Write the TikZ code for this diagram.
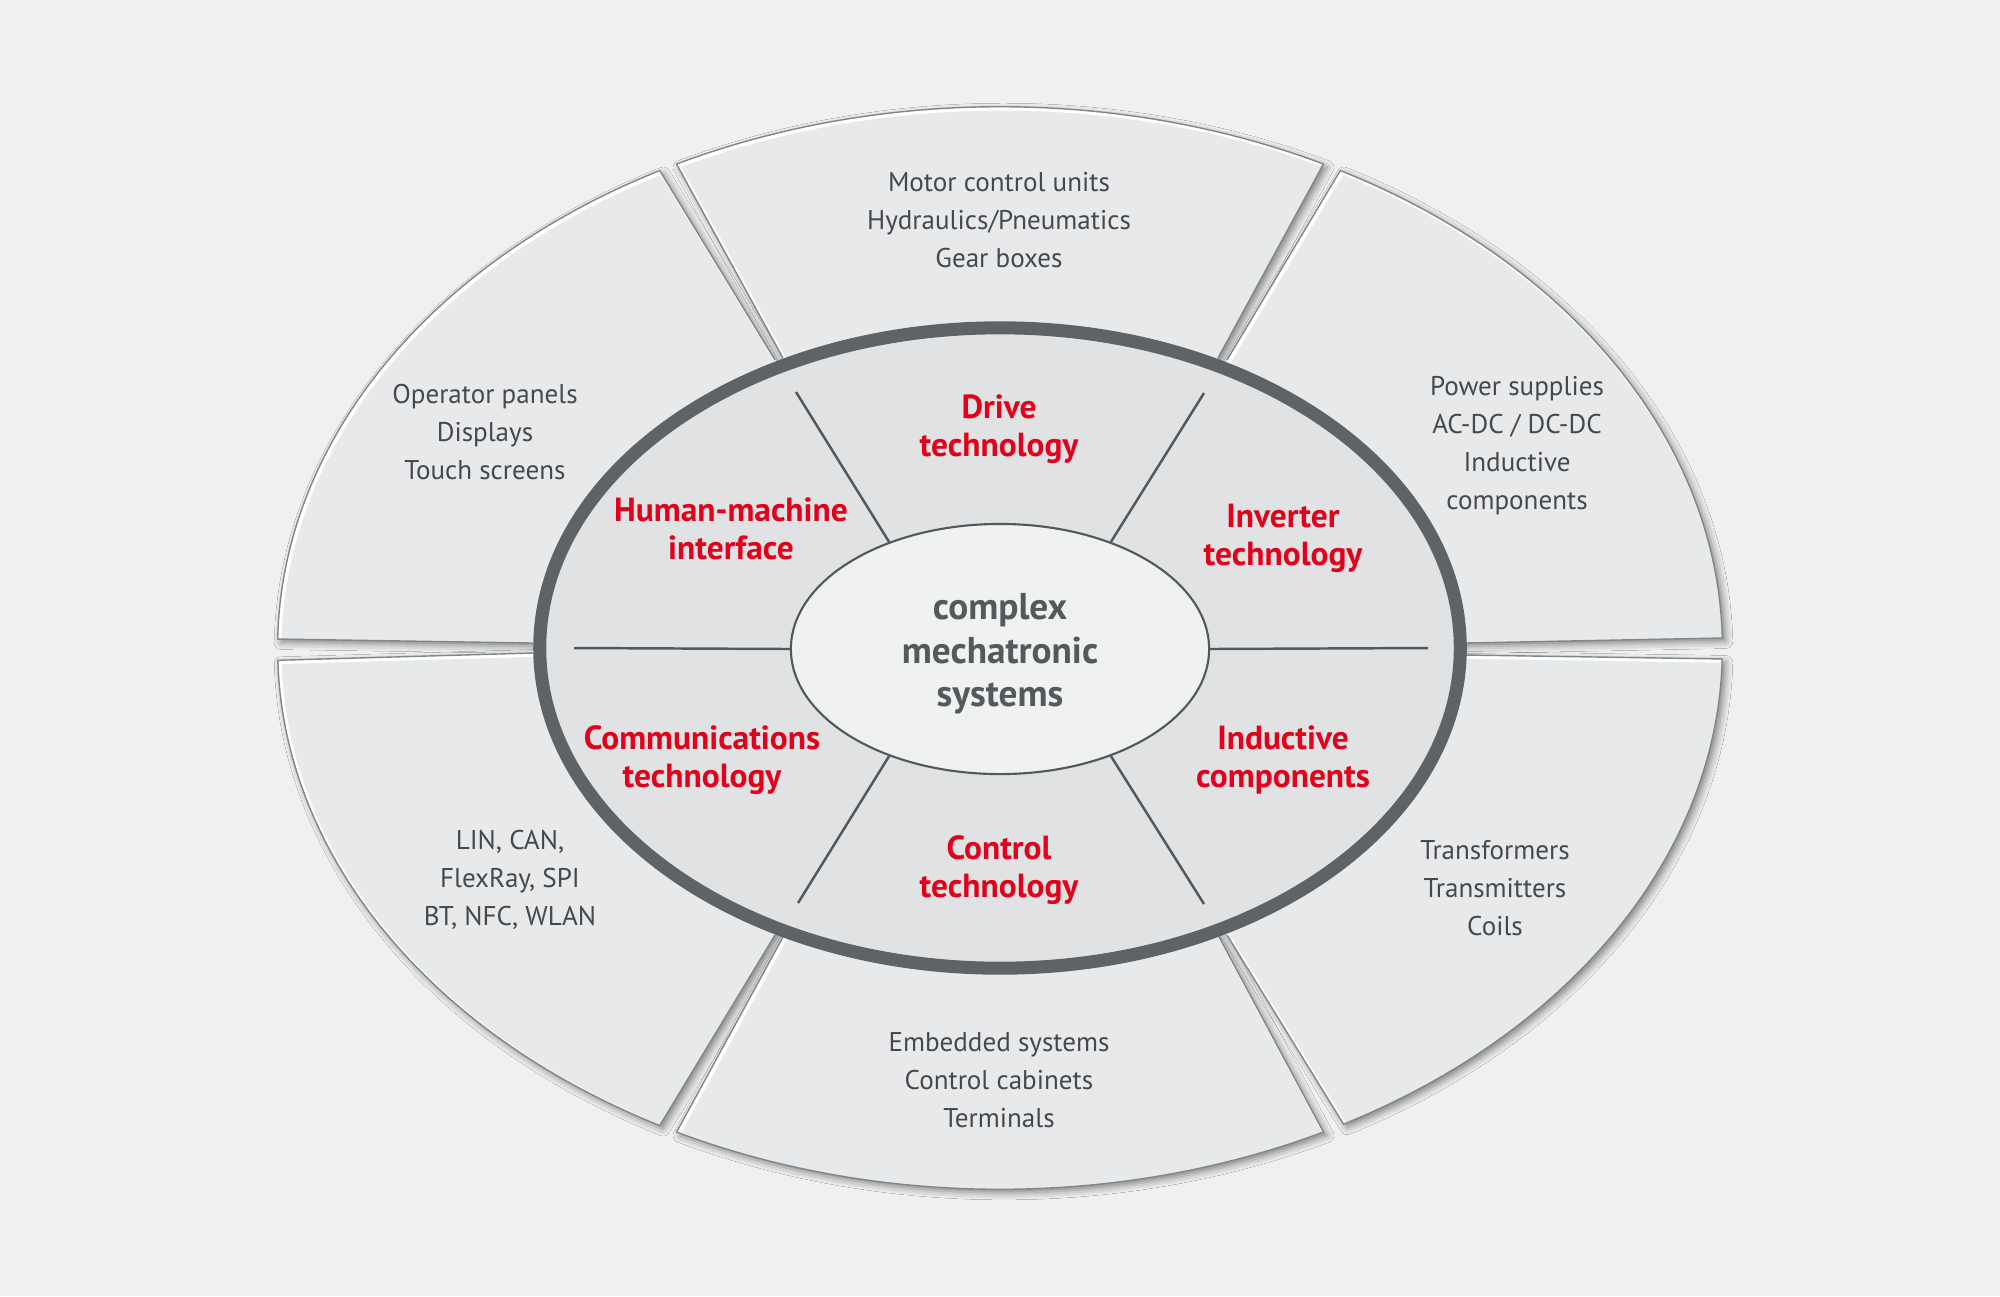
\documentclass[tikz,border=0pt]{standalone}
\usepackage{fontspec}
\setmainfont{PT Sans}
\usetikzlibrary{shapes.geometric,shadows.blur}
\definecolor{bg}{RGB}{239,240,239}
\definecolor{secfill}{RGB}{232,233,234}
\definecolor{secline}{RGB}{128,135,139}
\definecolor{ringfill}{RGB}{225,226,227}
\definecolor{ringcol}{RGB}{95,99,102}
\definecolor{divcol}{RGB}{84,88,91}
\definecolor{corefill}{RGB}{240,241,241}
\definecolor{txtgray}{RGB}{70,73,76}
\definecolor{coregray}{RGB}{85,89,92}
\definecolor{hired}{RGB}{226,0,26}
\tikzset{
  itemtext/.style={text=txtgray, align=center, inner sep=0pt, font=\fontsize{7.7}{10.8}\selectfont},
  areatext/.style={text=hired, align=center, inner sep=0pt, font=\bfseries\fontsize{9.5}{10.8}\selectfont},
  coretext/.style={text=coregray, align=center, inner sep=0pt, font=\bfseries\fontsize{10.6}{12.3}\selectfont},
  divider/.style={draw=divcol, line width=0.7pt},
  secshadow/.style={blur shadow={shadow xshift=0.035cm, shadow yshift=-0.035cm, shadow blur radius=0.07cm, shadow opacity=45}},
}
\begin{document}
\begin{tikzpicture}[x=0.01cm,y=-0.01cm]
\useasboundingbox[fill=bg] (0,0) rectangle (2000,1296);
\coordinate (O) at (1000,648);
% shadows pass
\foreach \ax/\ay/\sa/\ea/\bx/\by in {775/360/118.1/179.05/533/643, 783/358/116.6/63.4/1218/358, 1227/360/61.9/1.06/1465/643, 1465/655/-1.16/-61.6/1227/935, 1218/935/-63.4/-116.6/783/937, 775/935/-118.1/-178.7/533/653}{
  \path[secshadow] (\ax,\ay) -- ([shift={(O)}]\sa:7.22cm and 5.41cm) arc[start angle=\sa, end angle=\ea, x radius=7.22cm, y radius=5.41cm] -- (\bx,\by) -- (O) -- cycle;
}
% fill pass
\foreach \ax/\ay/\sa/\ea/\bx/\by in {775/360/118.1/179.05/533/643, 783/358/116.6/63.4/1218/358, 1227/360/61.9/1.06/1465/643, 1465/655/-1.16/-61.6/1227/935, 1218/935/-63.4/-116.6/783/937, 775/935/-118.1/-178.7/533/653}{
  \begin{scope}
  \clip (\ax,\ay) -- ([shift={(O)}]\sa:7.22cm and 5.41cm) arc[start angle=\sa, end angle=\ea, x radius=7.22cm, y radius=5.41cm] -- (\bx,\by) -- (O) -- cycle;
  \fill[secfill] (\ax,\ay) -- ([shift={(O)}]\sa:7.22cm and 5.41cm) arc[start angle=\sa, end angle=\ea, x radius=7.22cm, y radius=5.41cm] -- (\bx,\by) -- (O) -- cycle;
  \draw[white, line width=0.04cm, xshift=0.018cm, yshift=-0.018cm] (\ax,\ay) -- ([shift={(O)}]\sa:7.22cm and 5.41cm) arc[start angle=\sa, end angle=\ea, x radius=7.22cm, y radius=5.41cm] -- (\bx,\by) -- (O) -- cycle;
  \end{scope}
  \draw[secline, line width=0.4pt] (\ax,\ay) -- ([shift={(O)}]\sa:7.22cm and 5.41cm) arc[start angle=\sa, end angle=\ea, x radius=7.22cm, y radius=5.41cm] -- (\bx,\by);
}
% ring
\draw[fill=ringfill, draw=ringcol, line width=0.13cm] (O) ellipse [x radius=4.60cm, y radius=3.20cm];
% core
\node[ellipse, draw=divcol, line width=0.6pt, fill=corefill, minimum width=4.18cm, minimum height=2.5cm, inner sep=0pt] (core) at (1000,649) {};
\node[coretext] (coretxt) at (1000,654) {complex\\mechatronic\\systems};
% dividers
\coordinate (d1) at (796,392);
\coordinate (d2) at (1204,393);
\coordinate (d3) at (798,903);
\coordinate (d4) at (1204,904);
\coordinate (h1) at (574,648);
\coordinate (h2) at (1428,648);
\draw[divider] (core.136) -- (d1);
\draw[divider] (core.44) -- (d2);
\draw[divider] (core.224) -- (d3);
\draw[divider] (core.316) -- (d4);
\draw[divider] (core.180) -- (h1);
\draw[divider] (core.0) -- (h2);
% area labels
\node[areatext] (drive) at (999,429) {Drive\\technology};
\node[areatext] (hmi) at (731,529) {Human-machine\\interface};
\node[areatext] (inv) at (1283,538) {Inverter\\technology};
\node[areatext] (comm) at (702,760) {Communications\\technology};
\node[areatext] (induct) at (1283,760) {Inductive\\components};
\node[areatext] (ctrl) at (999,870) {Control\\technology};
% item lists
\node[itemtext] (itT) at (999,220) {Motor control units\\Hydraulics/Pneumatics\\Gear boxes};
\node[itemtext] (itTL) at (485,432) {Operator panels\\Displays\\Touch screens};
\node[itemtext] (itTR) at (1517,446) {Power supplies\\AC-DC / DC-DC\\Inductive\\components};
\node[itemtext] (itBL) at (510,880) {LIN, CAN,\\FlexRay, SPI\\BT, NFC, WLAN};
\node[itemtext] (itB) at (999,1080) {Embedded systems\\Control cabinets\\Terminals};
\node[itemtext] (itBR) at (1495,888) {Transformers\\Transmitters\\Coils};
\end{tikzpicture}
\end{document}
